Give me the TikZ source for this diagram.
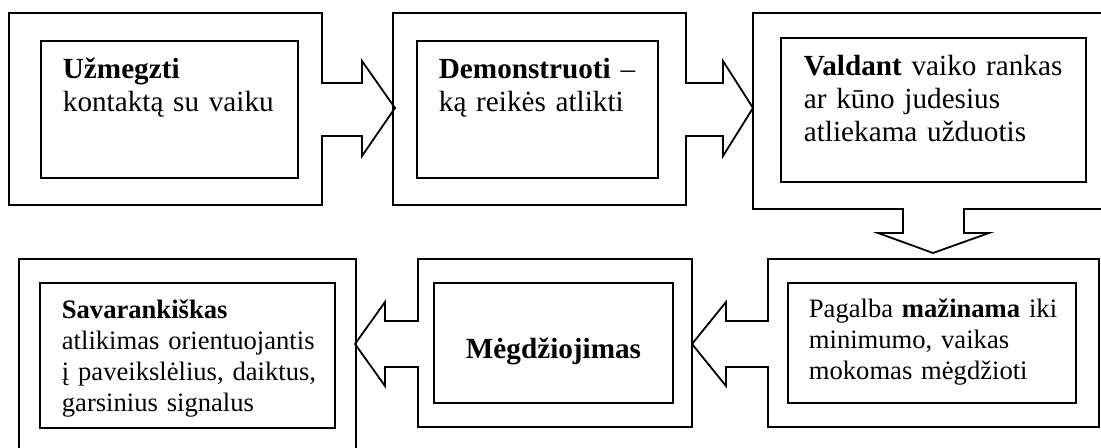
\documentclass[tikz,border=0pt]{standalone}
\usepackage{fontspec}
\setmainfont{Liberation Serif}
\begin{document}
\begin{tikzpicture}[x=0.5pt,y=-0.5pt,line width=0.9pt,line join=miter,
  frame/.style={draw=black},
  inbox/.style={draw=black,rectangle,inner sep=0pt},
  bigtxt/.style={anchor=base west,inner sep=0pt,text width=140pt,align=left,font=\fontsize{14.6}{16.5}\selectfont},
  smalltxt/.style={anchor=base west,inner sep=0pt,text width=140pt,align=left,font=\fontsize{13.3}{15.5}\selectfont}]
\useasboundingbox (0,0) rectangle (1101,448);
\clip (0,0) rectangle (1101,448);
% outer frames with block arrows
\draw[frame] (9,13) -- (322,13) -- (322,83) -- (362,83) -- (362,61) -- (395,108) -- (362,156) -- (362,136) -- (322,136) -- (322,205) -- (9,205) -- cycle;
\draw[frame] (393,13) -- (686,13) -- (686,83) -- (723,83) -- (723,61) -- (753,108) -- (723,156) -- (723,136) -- (686,136) -- (686,205) -- (393,205) -- cycle;
\draw[frame] (753,13) -- (1115,13) -- (1115,209) -- (964,209) -- (964,233) -- (989,233) -- (933,253) -- (878,233) -- (903,233) -- (903,209) -- (753,209) -- cycle;
\draw[frame] (768,259) -- (1099,259) -- (1099,427) -- (768,427) -- (768,367) -- (726,367) -- (726,386) -- (692,344) -- (726,302) -- (726,321) -- (768,321) -- cycle;
\draw[frame] (418,259) -- (692,259) -- (692,427) -- (418,427) -- (418,367) -- (385,367) -- (385,386) -- (355,344) -- (385,302) -- (385,321) -- (418,321) -- cycle;
\draw[frame] (19,259) -- (356,259) -- (356,470) -- (19,470) -- cycle;
% inner boxes
\draw[frame] (41,41) rectangle (298,178);
\draw[frame] (417,41) rectangle (658,178);
\draw[frame] (781,38) rectangle (1086,182);
\draw[frame] (40,283) rectangle (335,428);
\draw[frame] (434,283) rectangle (673,403);
\draw[frame] (788,283) rectangle (1076,403);
% texts
\node[bigtxt] (t1) at (62,79) {\textbf{Užmegzti}\\kontaktą su vaiku};
\node[bigtxt] (t2) at (438,79) {\textbf{Demonstruoti} –\\ką reikės atlikti};
\node[bigtxt,text width=160pt] (t3) at (803,76) {\textbf{Valdant} vaiko rankas\\ar kūno judesius\\atliekama užduotis};
\node[smalltxt] (t4) at (61,319) {\textbf{Savarankiškas}\\atlikimas orientuojantis\\į paveikslėlius, daiktus,\\garsinius signalus};
\node[anchor=base,inner sep=0pt,font=\fontsize{14.6}{16.5}\selectfont\bfseries] (t5) at (553.5,358) {Mėgdžiojimas};
\node[smalltxt] (t6) at (808,318) {Pagalba \textbf{mažinama} iki\\minimumo, vaikas\\mokomas mėgdžioti};
\end{tikzpicture}
\end{document}
